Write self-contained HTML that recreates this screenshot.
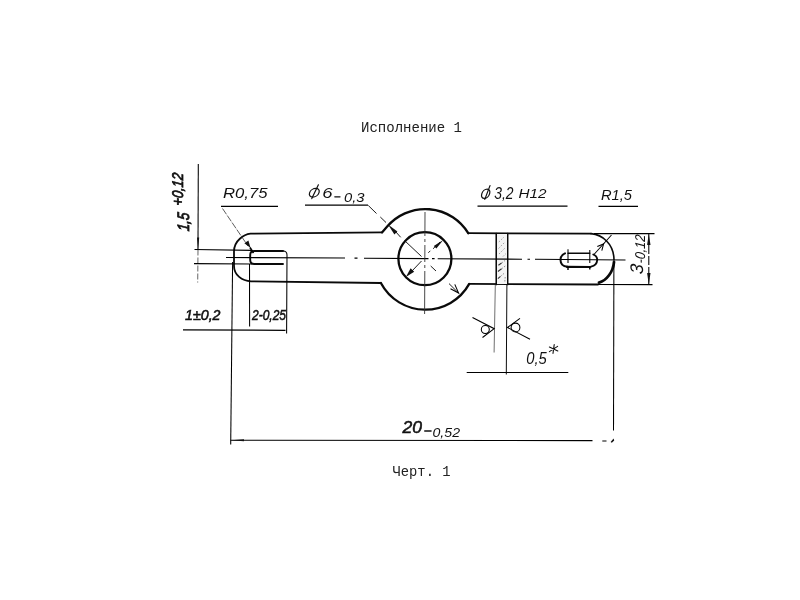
<!DOCTYPE html>
<html>
<head>
<meta charset="utf-8">
<title>Исполнение 1</title>
<style>
html,body{margin:0;padding:0;background:#fff;}
body{width:800px;height:600px;overflow:hidden;position:relative;font-family:"Liberation Sans",sans-serif;}
svg{position:absolute;left:0;top:0;display:block;filter:grayscale(1);}
.mono{font-family:"Liberation Mono",monospace;font-size:14px;fill:#222;}
.hw{font-family:"Liberation Sans",sans-serif;font-style:italic;fill:#111;}
.thick{stroke:#0a0a0a;stroke-width:2.2;fill:none;stroke-linecap:round;stroke-linejoin:round;}
.thin{stroke:#000;stroke-width:1.05;fill:none;}
.arrow{fill:#111;stroke:none;}
.semi{stroke:#111;stroke-width:0.55;}
</style>
</head>
<body>
<svg width="800" height="600" viewBox="0 0 800 600">
<rect x="0" y="0" width="800" height="600" fill="#ffffff"/>

<!-- captions -->
<text class="mono" x="361" y="132" textLength="101" lengthAdjust="spacingAndGlyphs">Исполнение 1</text>
<text class="mono" x="392.5" y="476" textLength="58" lengthAdjust="spacingAndGlyphs">Черт. 1</text>

<!-- ===== part outline (thick) ===== -->
<g class="thick">
  <!-- left arm -->
  <path d="M382 232.4 L250.5 233.7 C244 234.4, 234 240.5, 234 251.5 L234 266 C234 275, 242 281, 251 281.3 L380.88 283.0" stroke-width="1.8"/>
  <!-- big circle arcs : centre (425.3,259.4) r 50.3 -->
  <path d="M382 232.4 L387.17 226.6 A50.3 50.3 0 0 1 468.24 233.2" stroke-width="2.3"/>
  <path d="M380.88 283.0 A50.3 50.3 0 0 0 469.23 283.9" stroke-width="2.3"/>
  <!-- right arm -->
  <path d="M468.24 233.2 L591 233.6" stroke-width="1.8"/>
  <path d="M591 233.6 C602 234.5 613.9 243.5 614 260" stroke-width="1.6"/>
  <path d="M469.23 283.9 L598 284.5" stroke-width="1.8"/>
  <path d="M614 262 C613.2 272 606.5 280.5 599 282.6" stroke-width="2.8"/>
  <!-- inner circle -->
  <circle cx="424.9" cy="258.7" r="26.5" stroke-width="2.3"/>
  <!-- hatched bar sides -->
  <path d="M496.3 233.5 L496.3 284.5" stroke-width="1.7"/>
  <path d="M507.6 233.5 L507.6 284.5" stroke-width="1.7"/>
  <!-- left slot -->
  <path d="M283 251 L254.2 251 Q250.2 251 250.2 255 L250.2 260 Q250.2 264 254.2 264 L283 264" stroke-width="1.9"/>
  <!-- right slot -->
  <path d="M565 253.4 C561.3 255 560.5 258 560.5 260 C560.5 263.2 562.5 266.5 567.5 266.8" stroke-width="2"/>
  <path d="M567 266.9 L590.2 267" stroke-width="2.2"/>
  <path d="M568 253.2 L589.8 253.2" stroke-width="1.4"/>
  <path d="M593.3 254.5 C596.5 256 597.3 258.5 597.2 260 C597 263.5 594.5 266 591 266.6" stroke-width="1.9"/>
</g>

<!-- ===== hatch in bar ===== -->
<rect x="497" y="234" width="10" height="50" fill="#f4f4f4"/>
<g stroke="#999" stroke-width="0.9" fill="none" stroke-dasharray="1.6 1.6">
  <path d="M498.8 242 L504 237 M498.5 248.5 L504.5 242.5 M499 254 L505 248 M503 256.5 L506 253.5"/>
</g>
<g stroke="#333" stroke-width="1.1" fill="none">
  <path d="M498.4 265.3 L501.6 263 M497.9 271.5 L501.6 268.8 M497.9 278.6 L500.5 276.4"/>
</g>
<g stroke="#888" stroke-width="0.9" fill="none" stroke-dasharray="1.6 1.4">
  <path d="M501.6 263 L505 260.5 M501.6 268.8 L505.3 266 M500.5 276.4 L505 272.6 M504.8 281.5 L505.2 277"/>
</g>

<!-- ===== thin lines ===== -->
<g class="thin">
  <!-- centre lines -->
  <path d="M226 257.5 L345 258 M354.5 258.1 L357.5 258.1 M364 258.2 L428.5 258.6 M432 258.6 L434.6 258.6 M437.7 258.7 L522 259.2 M527.5 259.3 L530 259.3 M535 259.3 L625.5 260"/>
  <path d="M425 212 L424.9 236 M424.9 239 L424.9 242 M424.9 245 L424.8 262 M424.8 265 L424.8 268 M424.8 271 L424.6 314" stroke="#333" stroke-width="0.9"/>
  <!-- left vertical extension line (1,5+0,12) -->
  <path d="M198.3 164 L198 249.5"/>
  <path d="M198 249.5 L197.7 282.5" stroke="#555" stroke-width="0.9" stroke-dasharray="6 2"/>
  <path d="M194.5 249.5 L252 250.3" stroke-width="1.2"/>
  <path d="M194 263.6 L252 264" stroke-width="1.2"/>
  <!-- left slot right side -->
  <path d="M283 251 Q287 251 287 255 L286.6 333.5"/>
  <!-- vertical ext lines below left end -->
  <path d="M232.6 262 L230.7 444.5"/>
  <path d="M249.5 264 L249.6 326.5"/>
  <!-- dim line 1±0,2 / 2-0,25 -->
  <path d="M183 329.8 L285.5 330.3" stroke-width="1.2"/>
  <!-- long dim 20-0,52 -->
  <path d="M230.7 440.2 L592.5 440.6 M602.3 440.9 L606.5 440.9"/>
  <path d="M613.9 262 L613.5 430.5"/>
  <!-- right end: extension lines for 3-0,12 -->
  <path d="M594 233.6 L654.5 233.6"/>
  <path d="M598 284.5 L652.5 284.6"/>
  <path d="M648.8 234 L648.8 284.5" stroke-dasharray="9 2"/>
  <!-- R1,5 leader -->
  <path d="M593.5 255 L611.5 235"/>
  <!-- right slot thin parts -->
  <path d="M568 249.2 L568 263 M589.8 250 L589.8 263"/>
  <!-- shelves -->
  <path d="M221 206.4 L278 206.4" stroke-width="1.3"/>
  <path d="M305 205.2 L368 205.2" stroke-width="1.3"/>
  <path d="M477.5 206.2 L567.5 206.2" stroke-width="1.3"/>
  <path d="M598.5 206.4 L638 206.4" stroke-width="1.3"/>
  <!-- R0,75 leader -->
  <path d="M222.5 208.5 L248 246" stroke="#333" stroke-width="0.8" stroke-dasharray="7 1.5"/>
  <path d="M250 247.5 L253.5 253" stroke-width="1.6"/>
  <!-- diameter 6 leader (45deg) -->
  <path d="M368.3 205.5 L376.5 213.5 M380.3 217 L386 222.5 M395.5 231.5 L400.7 237.3 M404.5 240.5 L421.5 256.5 M430.7 266 L436 271 M449 283.6 L458.5 293" stroke="#111" stroke-width="0.95"/>
  <!-- inner diameter line -->
  <path d="M412 271 L421.5 261 M428.3 252.8 L430.3 250.8 M433 248.8 L440 242" stroke="#111" stroke-width="0.95"/>
  <!-- bar ext lines + 0,5 dim -->
  <path d="M495.3 285 L494.1 352.5" stroke="#555" stroke-width="0.85"/>
  <path d="M506.9 285 L506.3 374.5" stroke-width="0.95"/>
  <path d="M466.7 372.5 L568.3 372.5"/>
  <!-- roughness symbols -->
  <path d="M472.5 317.5 L494.2 328.7 L482.5 337.5"/>
  <circle cx="485.3" cy="329.5" r="4"/>
  <path d="M520 318.3 L507.5 327.5 L530 339.2"/>
  <circle cx="515.5" cy="327.5" r="4.4"/>
</g>

<!-- ===== arrows ===== -->
<g class="arrow">
  <!-- R0,75 arrow tip at (250,250) -->
  <path d="M250.6 248 L244.4 243.2 L248.4 240.6 Z"/>
  <path d="M198 249.5 L197 237.5 L199.2 237.5 Z"/>
  <!-- diameter 6 arrows -->
  <path d="M388 224.4 L397.4 231.4 L394.4 234.4 Z"/>
  <!-- inner circle arrows -->
  <path d="M443.2 240 L433.8 246 L436.4 248.6 Z"/>
  <path d="M405.9 277 L410.6 268.2 L414.2 271.8 Z"/>
  <!-- 3-0,12 arrows -->
  <path d="M648.8 234 L647.1 245 L650.5 245 Z"/>
  <path d="M648.8 284.5 L647.1 273 L650.5 273 Z"/>
  <!-- tiny comma at far right of long dimension -->
  <path d="M610.6 442 L613.6 438.6 L614.2 440.4 L611.8 442.8 Z"/>
  <path d="M231 440.2 L244 439.2 L244 441.2 Z"/>
</g>
<g class="thin">
  <!-- open arrow lower-right on big circle -->
  <path d="M450.5 288.8 L458.6 293 L454.8 284.4"/>
  <!-- open arrow R1,5 -->
  <path d="M597.3 246.6 L603.6 244 L601.8 250.6"/>
  <!-- small ticks on right slot bottom line -->
  <path d="M568 267 L568 270 M589.8 267 L589.8 269.5" stroke-width="1.4"/>
</g>

<!-- ===== handwritten labels ===== -->
<g class="hw">
  <text x="223" y="198.3" font-size="15.3" textLength="44.5" lengthAdjust="spacingAndGlyphs">R0,75</text>
  <text x="322.3" y="198.3" font-size="14.8" textLength="10.3" lengthAdjust="spacingAndGlyphs">6</text>
  <text x="344" y="202" font-size="12.5" textLength="20.5" lengthAdjust="spacingAndGlyphs">0,3</text>
  <text x="494.3" y="198.8" font-size="16.8" textLength="19.3" lengthAdjust="spacingAndGlyphs">3,2</text>
  <text x="518.5" y="198.4" font-size="13.2" textLength="28" lengthAdjust="spacingAndGlyphs">Н12</text>
  <text x="601" y="200" font-size="13.8" textLength="31" lengthAdjust="spacingAndGlyphs">R1,5</text>
  <text class="semi" x="185" y="320" font-size="15" textLength="35.5" lengthAdjust="spacingAndGlyphs">1±0,2</text>
  <text class="semi" x="252" y="320" font-size="15" textLength="34" lengthAdjust="spacingAndGlyphs">2-0,25</text>
  <text class="semi" x="402.5" y="433" font-size="17" textLength="19.5" lengthAdjust="spacingAndGlyphs">20</text>
  <text x="432.5" y="437.2" font-size="13" textLength="27.5" lengthAdjust="spacingAndGlyphs">0,52</text>
  <text x="526.3" y="363.6" font-size="15.8" textLength="20.5" lengthAdjust="spacingAndGlyphs">0,5</text>
  <!-- rotated: 1,5 +0,12 -->
  <g transform="translate(188.6 231.5) rotate(-90) skewX(-6)">
    <text class="semi" x="0" y="0" font-size="16.5" textLength="18.5" lengthAdjust="spacingAndGlyphs" style="stroke-width:0.9">1,5</text>
    <text class="semi" x="25" y="-5.5" font-size="15.5" textLength="32.5" lengthAdjust="spacingAndGlyphs" style="stroke-width:0.8">+0,12</text>
  </g>
  <!-- rotated: 3-0,12 -->
  <g transform="translate(642.8 274.6) rotate(-90) skewX(-5)">
    <text x="0" y="0" font-size="18.2" textLength="10" lengthAdjust="spacingAndGlyphs">3</text>
    <text x="11" y="2.2" font-size="14.2" textLength="28.8" lengthAdjust="spacingAndGlyphs">-0,12</text>
  </g>
</g>
<!-- dashes and asterisk drawn as strokes -->
<g stroke="#111" stroke-width="1.3" fill="none" stroke-linecap="round">
  <ellipse cx="0" cy="0" rx="4.7" ry="4.3" transform="translate(314.3 192.7) skewX(-18)" stroke-width="1.25"/>
  <path d="M311.8 198.6 L318.4 184.8" stroke-width="1.2"/>
  <ellipse cx="0" cy="0" rx="3.9" ry="4.7" transform="translate(485.7 193.7) skewX(-16)" stroke-width="1.25"/>
  <path d="M484.8 199.4 L490 185.6" stroke-width="1.2"/>
  <path d="M334.8 196.8 L340 196.8"/>
  <path d="M424.8 431 L431 431" stroke-width="1.6"/>
  <path d="M554.2 344.6 L553 353.4 M549.4 347 L557.8 351 M549.4 351.6 L557.6 346.4" stroke-width="1.1"/>
</g>
</svg>
</body>
</html>
